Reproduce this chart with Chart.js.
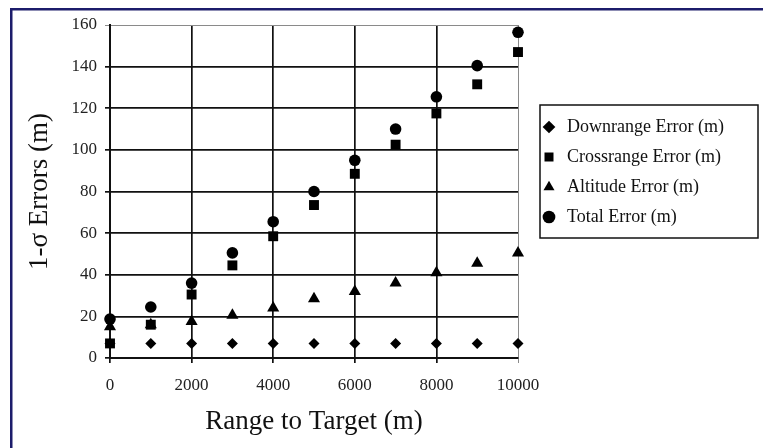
<!DOCTYPE html>
<html>
<head>
<meta charset="utf-8">
<script src="https://cdn.jsdelivr.net/npm/chart.js@4.4.1/dist/chart.umd.min.js"></script>
<style>
  html, body { margin: 0; padding: 0; background: #fff; }
  #wrap { width: 763px; height: 448px; }
</style>
</head>
<body>
<div id="wrap"><canvas id="errorChart" width="763" height="448"></canvas></div>
<script>
// range to target (m)
const ranges = [0, 1000, 2000, 3000, 4000, 5000, 6000, 7000, 8000, 9000, 10000];
// 1-sigma errors (m)
const downrange  = [7, 7, 7, 7, 7, 7, 7, 7, 7, 7, 7];
const crossrange = [7, 16, 30.5, 44.5, 58.5, 73.5, 88.5, 102.5, 117.5, 131.5, 147];
const altitude   = [15, 16, 17.5, 20.5, 24, 28.5, 32, 36, 41, 45.5, 50.5];
const total      = [18.7, 24.5, 36, 50.5, 65.5, 80, 95, 110, 125.5, 140.5, 156.5];

const seriesNames = ['Downrange Error (m)', 'Crossrange Error (m)', 'Altitude Error (m)', 'Total Error (m)'];
const xTicks = [0, 2000, 4000, 6000, 8000, 10000];
const yTicks = [0, 20, 40, 60, 80, 100, 120, 140, 160];

const SERIF = "'Liberation Serif', 'Times New Roman', serif";
const legendBox = { x: 540, y: 105, w: 218, h: 133 };

function pts(vals) {
  return ranges.map((r, i) => ({ x: r, y: vals[i] }));
}

// navy frame + white page, and box around the legend
const framePlugin = {
  id: 'frame',
  beforeDraw(chart) {
    const c = chart.ctx;
    c.save();
    c.fillStyle = '#fff';
    c.fillRect(0, 0, chart.width, chart.height);
    c.fillStyle = '#1c1c6b';
    c.fillRect(10, 8, chart.width - 10, 2.5);
    c.fillRect(10, 8, 2.5, chart.height - 8);
    c.restore();
  },
  afterLayout(chart) {
    // move the legend into its boxed spot (and make it wide enough not to clip)
    const lg = chart.legend;
    lg.left = legendBox.x - 12;
    lg.width = legendBox.w + 12;
    lg.right = lg.left + lg.width;
    lg.top = legendBox.y + 1;
    lg.height = legendBox.h;
    lg.bottom = lg.top + lg.height;
  },
  afterDraw(chart) {
    const c = chart.ctx;
    c.save();
    c.strokeStyle = '#111';
    c.lineWidth = 1.5;
    c.strokeRect(legendBox.x, legendBox.y, legendBox.w, legendBox.h);
    c.restore();
  }
};

Chart.defaults.font.family = SERIF;
Chart.defaults.color = '#111';

const edgeColor = (max) => (ctx) => (ctx.tick && ctx.tick.value === max ? '#8a8a8a' : '#111');
const edgeWidth = (max) => (ctx) => (ctx.tick && ctx.tick.value === max ? 1 : 1.7);

new Chart(document.getElementById('errorChart'), {
  type: 'scatter',
  data: {
    datasets: [
      { label: seriesNames[0], data: pts(downrange),  pointStyle: 'rectRot',  pointRadius: 5.5, backgroundColor: '#000', borderColor: '#000', borderWidth: 0, clip: false },
      { label: seriesNames[1], data: pts(crossrange), pointStyle: 'rect',     pointRadius: 7,   backgroundColor: '#000', borderColor: '#000', borderWidth: 0, clip: false },
      { label: seriesNames[2], data: pts(altitude),   pointStyle: 'triangle', pointRadius: 7,   backgroundColor: '#000', borderColor: '#000', borderWidth: 0, clip: false },
      { label: seriesNames[3], data: pts(total),      pointStyle: 'circle',   pointRadius: 5.8, backgroundColor: '#000', borderColor: '#000', borderWidth: 0, clip: false }
    ]
  },
  options: {
    responsive: false,
    animation: false,
    layout: { padding: { left: 20, top: 25, right: 95, bottom: 0 } },
    plugins: {
      tooltip: { enabled: false },
      legend: {
        position: 'right',
        align: 'start',
        maxWidth: 150,
        labels: {
          usePointStyle: true,
          boxWidth: 18,
          boxHeight: 9,
          padding: 12,
          color: '#111',
          font: { size: 18 }
        }
      }
    },
    scales: {
      x: {
        type: 'linear',
        min: 0,
        max: 10000,
        afterBuildTicks: (s) => { s.ticks = xTicks.map(v => ({ value: v })); },
        afterFit: (s) => { s.height = 90; },
        ticks: { font: { size: 17 }, padding: 12, color: '#222', callback: (v) => String(v) },
        grid: { color: edgeColor(10000), lineWidth: edgeWidth(10000), tickLength: 5 },
        border: { color: '#111', width: 2 },
        title: { display: true, text: 'Range to Target (m)', font: { size: 27 }, color: '#111', padding: { top: 4, bottom: 10 } }
      },
      y: {
        min: 0,
        max: 160,
        afterBuildTicks: (s) => { s.ticks = yTicks.map(v => ({ value: v })); },
        afterFit: (s) => { s.width = 90; },
        ticks: { font: { size: 17 }, padding: 8, color: '#222', callback: (v) => String(v) },
        grid: { color: edgeColor(160), lineWidth: edgeWidth(160), tickLength: 5 },
        border: { color: '#111', width: 2 },
        title: { display: true, text: '1-σ Errors (m)', font: { size: 27 }, color: '#111', padding: { top: 4, bottom: 4 } }
      }
    }
  },
  plugins: [framePlugin]
});
</script>
</body>
</html>
